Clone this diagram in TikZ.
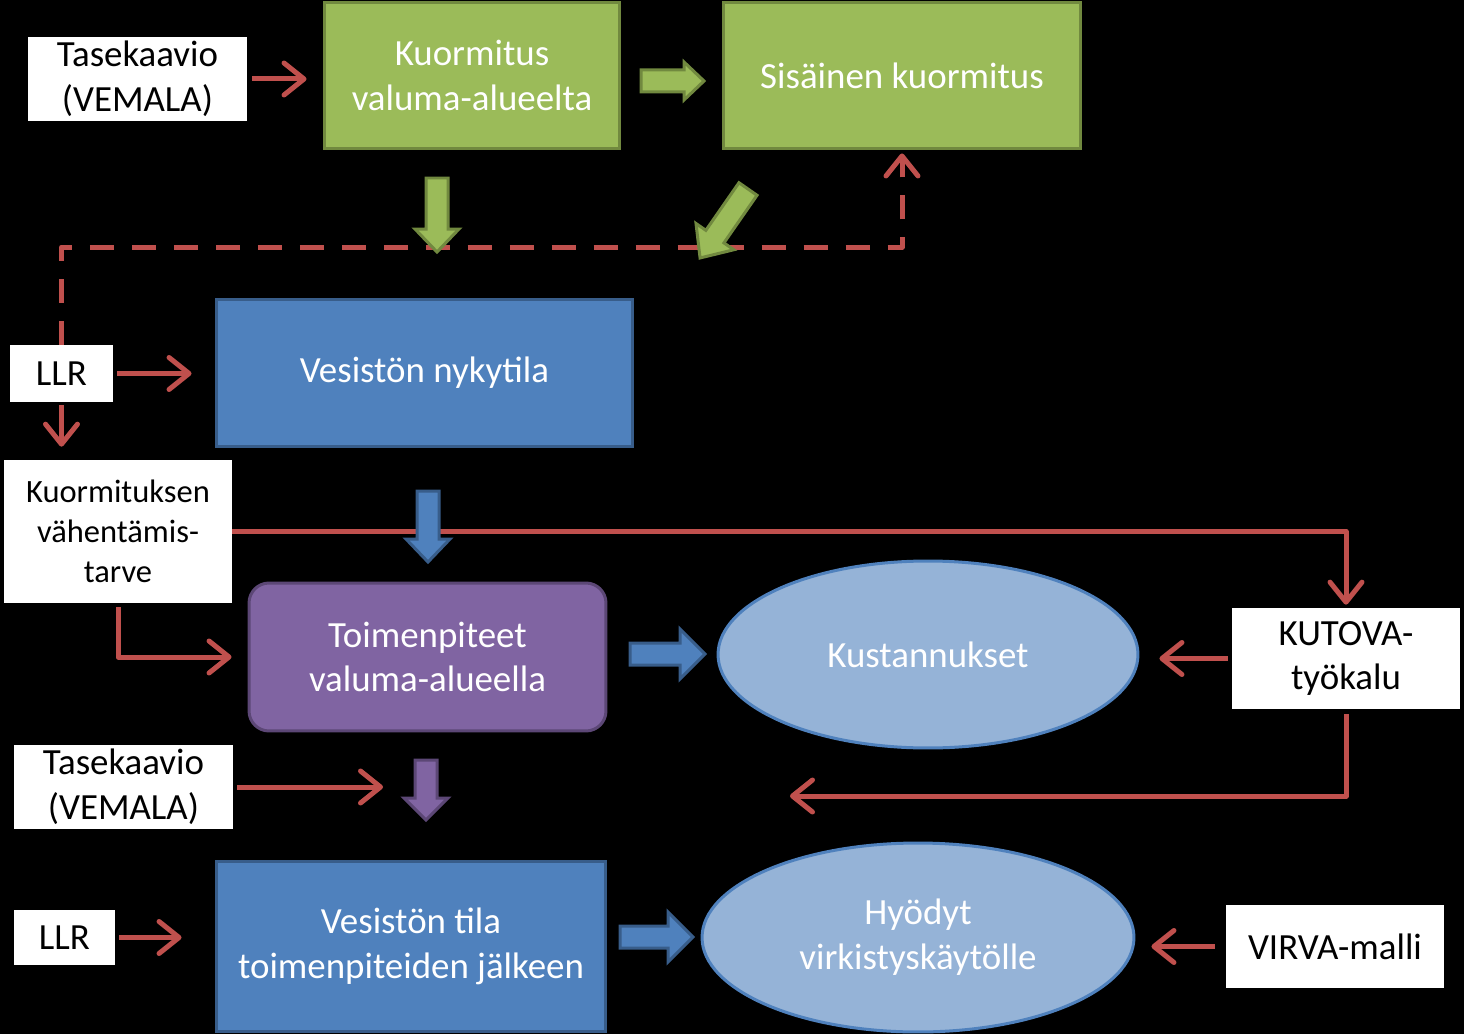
\documentclass[tikz,border=0pt]{standalone}
\usepackage{fontspec}
\setmainfont{Carlito}
\usepackage{tikz}
\usetikzlibrary{arrows.meta,calc,positioning,shapes.geometric}
\definecolor{loadRed}{HTML}{C0504D}
\definecolor{loadGreen}{HTML}{9BBB59}
\definecolor{loadGreenDk}{HTML}{71893F}
\definecolor{loadBlue}{HTML}{4F81BD}
\definecolor{loadBlueDk}{HTML}{385D8A}
\definecolor{loadPurple}{HTML}{8064A2}
\definecolor{loadPurpleDk}{HTML}{5C4776}
\definecolor{loadSky}{HTML}{95B3D7}

\begin{document}
\begin{tikzpicture}[x=0.02cm,y=0.02cm,
    every node/.style={font=\fontsize{21pt}{25.5pt}\selectfont,align=center,inner sep=0pt},
    whitebox/.style={fill=white,text=black},
    greenbox/.style={fill=loadGreen,draw=loadGreenDk,line width=0.06cm,text=white},
    bluebox/.style={fill=loadBlue,draw=loadBlueDk,line width=0.06cm,text=white},
    purplebox/.style={fill=loadPurple,draw=loadPurpleDk,line width=0.06cm,text=white,rounded corners=0.4cm},
    skyoval/.style={ellipse,fill=loadSky,draw=loadBlue,line width=0.06cm,text=white},
    redarrow/.style={draw=loadRed,line width=0.1cm,line join=round,
      -{Straight Barb[length=0.4cm,width=0.64cm,round]}},
    dashedarrow/.style={redarrow,dash pattern=on 0.48cm off 0.36cm},
    pics/blockarrow/.style n args={3}{code={
      \path[pic actions] (0,-11) -- ({#1-#3},-11) -- ({#1-#3},-#2) -- (#1,0)
        -- ({#1-#3},#2) -- ({#1-#3},11) -- (0,11) -- cycle;}}]
    \fill[black] (0,0) rectangle (1464,-1034);
    \useasboundingbox (0,0) rectangle (1464,-1034);
    % boxes
    \node[whitebox,minimum width=4.38cm,minimum height=1.68cm] (tase1) at (137.5,-79) {Tasekaavio\\(VEMALA)};
    \node[greenbox,minimum width=5.92cm,minimum height=2.94cm] (kuormva) at (472,-75.5) {Kuormitus\\valuma-alueelta};
    \node[greenbox,minimum width=7.16cm,minimum height=2.94cm] (sisainen) at (902,-75.5) {Sisäinen kuormitus};
    \node[whitebox,minimum width=2.06cm,minimum height=1.14cm] (llr1) at (61.5,-373.5) {LLR};
    \node[bluebox,minimum width=8.34cm,minimum height=2.96cm] (nykytila) at (424.5,-373) {Vesistön nykytila};
    \node[whitebox,minimum width=4.56cm,minimum height=2.86cm,font=\fontsize{18.5pt}{22.8pt}\selectfont] (tarve) at (118,-531.5) {Kuormituksen\\vähentämis-\\tarve};
    \node[purplebox,minimum width=7.14cm,minimum height=2.96cm] (toimen) at (427.5,-657) {Toimenpiteet\\valuma-alueella};
    \node[skyoval,minimum width=8.40cm,minimum height=3.74cm] (kust) at (928,-654.5) {Kustannukset};
    \node[whitebox,minimum width=4.56cm,minimum height=2.02cm] (kutova) at (1346,-658.5) {KUTOVA-\\työkalu};
    \node[whitebox,minimum width=4.38cm,minimum height=1.68cm] (tase2) at (123.5,-787) {Tasekaavio\\(VEMALA)};
    \node[whitebox,minimum width=2.02cm,minimum height=1.10cm] (llr2) at (64.5,-937.5) {LLR};
    \node[bluebox,minimum width=7.80cm,minimum height=3.42cm] (tila) at (411,-946.5) {Vesistön tila\\toimenpiteiden jälkeen};
    \node[skyoval,minimum width=8.64cm,minimum height=3.78cm] (hyodyt) at (918,-937.5) {Hyödyt\\virkistyskäytölle};
    \node[whitebox,minimum width=4.36cm,minimum height=1.66cm] (virva) at (1335,-946.5) {VIRVA-malli};
    \coordinate (dashy) at (0,-247);
    \coordinate (tase2end) at (383,-787);
    \coordinate (costend) at (790,-796);
    % red connectors
    \draw[redarrow,shorten <=0.1cm,shorten >=0.32cm] (tase1.east) -- (tase1.east -| kuormva.west);
    \draw[dashedarrow,shorten >=0.06cm] (llr1.north) -- (llr1.north |- dashy) -| (sisainen.south);
    \draw[redarrow,shorten <=0.08cm,shorten >=0.46cm] (llr1.east) -- (llr1.east -| nykytila.west);
    \draw[redarrow,shorten <=0.06cm,shorten >=0.26cm] (llr1.south) -- (llr1.south |- tarve.north);
    \draw[redarrow,shorten >=0.06cm] (tarve.east) -| (kutova.north);
    \draw[redarrow,shorten <=0.08cm,shorten >=0.32cm] (tarve.south) |- (toimen.west);
    \draw[redarrow,shorten <=0.08cm,shorten >=0.4cm] (kutova.west) -- (kutova.west -| kust.east);
    \draw[redarrow,shorten <=0.1cm] (kutova.south) |- (costend);
    \draw[redarrow,shorten <=0.08cm] (tase2.east) -- (tase2end);
    \draw[redarrow,shorten <=0.08cm,shorten >=0.66cm] (llr2.east) -- (llr2.east -| tila.west);
    \draw[redarrow,shorten <=0.22cm,shorten >=0.32cm] (virva.west) -- (virva.west -| hyodyt.east);
    % block arrows
    \pic[fill=loadGreen,draw=loadGreenDk,line width=0.06cm] at (641,-81) {blockarrow={63}{19}{20}};
    \pic[fill=loadGreen,draw=loadGreenDk,line width=0.06cm,rotate=-90] at (437,-178) {blockarrow={74}{22}{23}};
    \pic[fill=loadGreen,draw=loadGreenDk,line width=0.06cm,rotate=235.2] at (748,-189) {blockarrow={84}{23}{26}};
    \pic[fill=loadBlue,draw=loadBlueDk,line width=0.06cm,rotate=-90] at (428,-491) {blockarrow={71}{22}{23}};
    \pic[fill=loadBlue,draw=loadBlueDk,line width=0.06cm] at (630,-654) {blockarrow={75}{25}{25}};
    \pic[fill=loadPurple,draw=loadPurpleDk,line width=0.06cm,rotate=-90] at (426,-760) {blockarrow={60}{22}{22}};
    \pic[fill=loadBlue,draw=loadBlueDk,line width=0.06cm] at (620,-937) {blockarrow={73}{25}{25}};
\end{tikzpicture}
\end{document}
